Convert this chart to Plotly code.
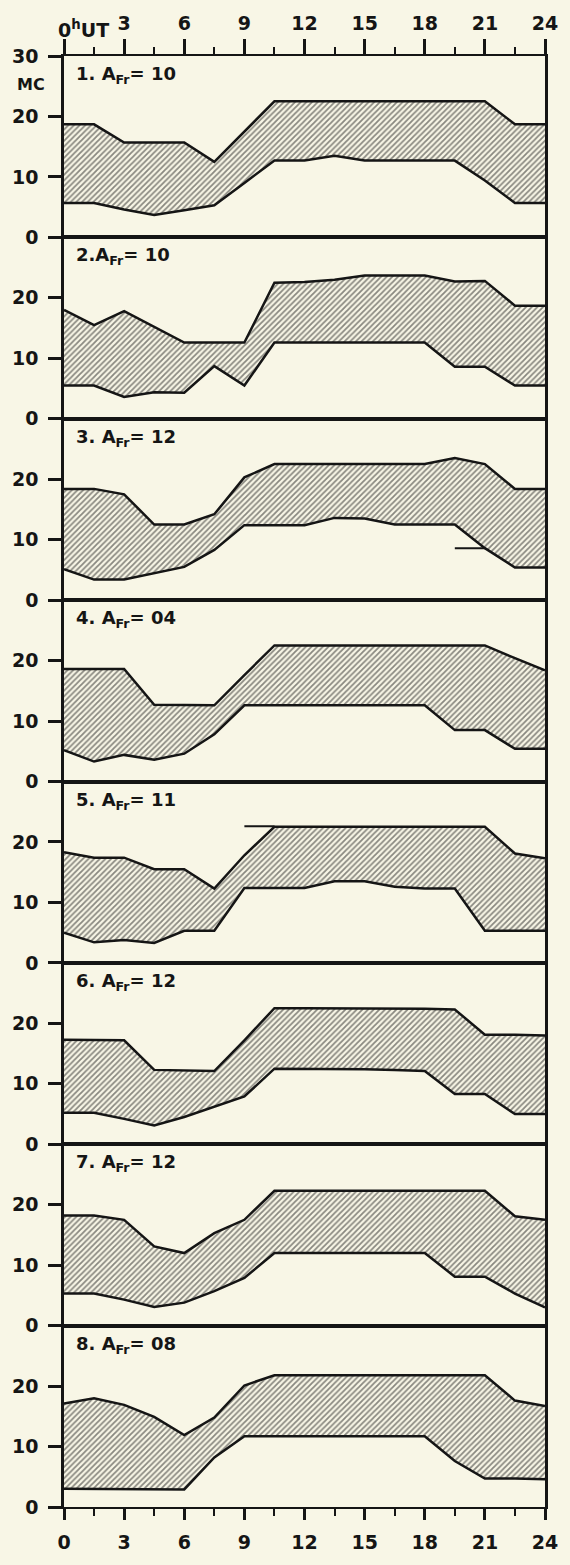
import plotly.graph_objects as go
from plotly.subplots import make_subplots

HOURS = [0, 1.5, 3, 4.5, 6, 7.5, 9, 10.5, 12, 13.5, 15, 16.5, 18, 19.5, 21, 22.5, 24]

P1_UP = [18.7, 18.7, 15.7, 15.7, 15.7, 12.5, 17.5, 22.5, 22.5, 22.5, 22.5, 22.5, 22.5, 22.5, 22.5, 18.7, 18.7]
P1_LO = [5.7, 5.7, 4.6, 3.7, 4.5, 5.3, 9.0, 12.7, 12.7, 13.5, 12.7, 12.7, 12.7, 12.7, 9.4, 5.7, 5.7]
P2_UP = [18.0, 15.5, 17.8, 15.2, 12.6, 12.6, 12.6, 22.5, 22.6, 23.0, 23.7, 23.7, 23.7, 22.7, 22.8, 18.7, 18.7]
P2_LO = [5.5, 5.5, 3.6, 4.4, 4.3, 8.7, 5.5, 12.6, 12.6, 12.6, 12.6, 12.6, 12.6, 8.6, 8.6, 5.5, 5.5]
P3_UP = [18.4, 18.4, 17.5, 12.5, 12.5, 14.2, 20.3, 22.5, 22.5, 22.5, 22.5, 22.5, 22.5, 23.5, 22.5, 18.4, 18.4]
P3_LO = [5.1, 3.4, 3.4, 4.4, 5.5, 8.3, 12.4, 12.4, 12.4, 13.6, 13.5, 12.5, 12.5, 12.5, 8.6, 5.4, 5.4]
P4_UP = [18.6, 18.6, 18.6, 12.7, 12.7, 12.6, 17.6, 22.5, 22.5, 22.5, 22.5, 22.5, 22.5, 22.5, 22.5, 20.4, 18.4]
P4_LO = [5.2, 3.3, 4.4, 3.6, 4.6, 7.8, 12.6, 12.6, 12.6, 12.6, 12.6, 12.6, 12.6, 8.5, 8.5, 5.4, 5.4]
P5_UP = [18.3, 17.4, 17.4, 15.5, 15.5, 12.3, 17.8, 22.5, 22.5, 22.5, 22.5, 22.5, 22.5, 22.5, 22.5, 18.1, 17.3]
P5_LO = [5.0, 3.4, 3.8, 3.3, 5.3, 5.3, 12.4, 12.4, 12.4, 13.5, 13.5, 12.6, 12.3, 12.3, 5.3, 5.3, 5.3]
P6_UP = [17.3, 17.3, 17.2, 12.3, 12.2, 12.1, 17.2, 22.5, 22.5, 22.5, 22.5, 22.5, 22.4, 22.3, 18.1, 18.1, 18.0]
P6_LO = [5.2, 5.2, 4.2, 3.1, 4.5, 6.2, 7.9, 12.5, 12.5, 12.4, 12.4, 12.3, 12.1, 8.3, 8.3, 5.0, 5.0]
P7_UP = [18.2, 18.2, 17.5, 13.1, 12.0, 15.3, 17.5, 22.3, 22.3, 22.3, 22.3, 22.3, 22.3, 22.3, 22.3, 18.1, 17.5]
P7_LO = [5.3, 5.3, 4.3, 3.1, 3.8, 5.7, 7.9, 12.0, 12.0, 12.0, 12.0, 12.0, 12.0, 8.1, 8.1, 5.3, 3.0]
P8_UP = [17.1, 18.0, 16.9, 14.9, 11.9, 14.8, 20.1, 21.8, 21.8, 21.8, 21.8, 21.8, 21.8, 21.8, 21.8, 17.6, 16.7]
P8_LO = [3.0, 3.0, 3.0, 3.0, 2.9, 8.2, 11.7, 11.7, 11.7, 11.7, 11.7, 11.7, 11.7, 7.6, 4.7, 4.7, 4.6]

UPPERS = [P1_UP, P2_UP, P3_UP, P4_UP, P5_UP, P6_UP, P7_UP, P8_UP]
LOWERS = [P1_LO, P2_LO, P3_LO, P4_LO, P5_LO, P6_LO, P7_LO, P8_LO]

PANEL_LABELS = ["1. A<sub>Fr</sub>= 10", "2.A<sub>Fr</sub>= 10", "3. A<sub>Fr</sub>= 12",
                "4. A<sub>Fr</sub>= 04", "5. A<sub>Fr</sub>= 11", "6. A<sub>Fr</sub>= 12",
                "7. A<sub>Fr</sub>= 12", "8. A<sub>Fr</sub>= 08"]

# extra short marks drawn in the original (panel index, x pair, y pair)
EXTRA_PANELS = [3, 5]
EXTRA_X = [[19.5, 21.0], [9.0, 10.5]]
EXTRA_Y = [[8.6, 8.6], [22.6, 22.6]]

X_TICKS = [0, 3, 6, 9, 12, 15, 18, 21, 24]
X_TICKTEXT = ["", "3", "6", "9", "12", "15", "18", "21", "24"]
X_TICKTEXT_BOTTOM = ["0", "3", "6", "9", "12", "15", "18", "21", "24"]

BG = "#f8f6e6"
INK = "#151515"
FONT = "DejaVu Sans"

fig = make_subplots(rows=8, cols=1, shared_xaxes=True, vertical_spacing=0)

for i in range(8):
    r = i + 1
    fig.add_trace(go.Scatter(x=HOURS, y=LOWERS[i], mode="lines",
                             line=dict(color=INK, width=2.5), showlegend=False,
                             hoverinfo="skip"), row=r, col=1)
    fig.add_trace(go.Scatter(x=HOURS, y=UPPERS[i], mode="lines", fill="tonexty",
                             fillcolor="rgba(0,0,0,0)",
                             fillpattern=dict(shape="/", size=4, solidity=0.45,
                                              fgcolor="#1c1c1c", bgcolor="rgba(0,0,0,0)"),
                             line=dict(color=INK, width=2.5), showlegend=False,
                             hoverinfo="skip"), row=r, col=1)

for p, xs, ys in zip(EXTRA_PANELS, EXTRA_X, EXTRA_Y):
    fig.add_trace(go.Scatter(x=xs, y=ys, mode="lines", line=dict(color=INK, width=2),
                             showlegend=False, hoverinfo="skip"), row=p, col=1)

axis_font = dict(family=FONT, size=19, color=INK, weight="bold")

for i in range(8):
    r = i + 1
    xa = dict(range=[0, 24], showgrid=False, zeroline=False, showline=True,
              linecolor=INK, linewidth=2, mirror=True, tickvals=X_TICKS)
    if r == 1:
        xa.update(side="top", showticklabels=True, ticks="outside", ticklen=15,
                  tickwidth=2.5, tickcolor=INK, ticktext=X_TICKTEXT, tickfont=axis_font,
                  ticklabelstandoff=1,
                  minor=dict(ticks="outside", ticklen=7, tickwidth=2, tickcolor=INK,
                             tick0=0, dtick=1.5, showgrid=False))
    elif r == 8:
        xa.update(side="bottom", showticklabels=True, ticks="outside", ticklen=11,
                  tickwidth=2.5, tickcolor=INK, ticktext=X_TICKTEXT_BOTTOM, tickfont=axis_font,
                  ticklabelstandoff=6,
                  minor=dict(ticks="outside", ticklen=7, tickwidth=2, tickcolor=INK,
                             tick0=0, dtick=1.5, showgrid=False))
    else:
        xa.update(showticklabels=False, ticks="")
    fig.update_xaxes(row=r, col=1, **xa)

    yt = [0, 10, 20, 30] if r == 1 else [0, 10, 20]
    fig.update_yaxes(row=r, col=1, range=[0, 30], showgrid=False, zeroline=False,
                     showline=True, linecolor=INK, linewidth=2.5, mirror=True,
                     tickvals=yt, ticktext=[str(v) for v in yt], ticks="outside",
                     ticklen=13, tickwidth=2.5, tickcolor=INK, tickfont=axis_font,
                     ticklabelstandoff=6)

    yref = "y domain" if r == 1 else f"y{r} domain"
    fig.add_annotation(text=PANEL_LABELS[i], xref="paper", yref=yref,
                       x=0.02, y=0.895, xanchor="left", yanchor="middle",
                       showarrow=False,
                       font=dict(family=FONT, size=18, color=INK, weight="bold"))

fig.add_annotation(text="MC", xref="paper", yref="y domain", x=0, xshift=-17,
                   y=0.845, xanchor="right", yanchor="middle", showarrow=False,
                   font=dict(family=FONT, size=16, color=INK, weight="bold"))
fig.add_annotation(text="0<sup>h</sup>UT", xref="paper", yref="paper", x=0, xshift=-8,
                   y=1, yshift=27, xanchor="left", yanchor="middle", showarrow=False,
                   font=dict(family=FONT, size=19, color=INK, weight="bold"))

fig.update_layout(width=570, height=1565, margin=dict(l=60, r=17, t=48, b=42),
                  paper_bgcolor=BG, plot_bgcolor=BG, showlegend=False)

fig.write_html("out.html")
